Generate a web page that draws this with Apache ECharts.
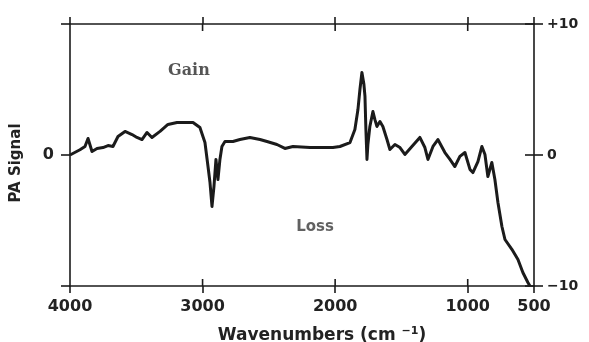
<!DOCTYPE html>
<html>
<head>
<meta charset="utf-8">
<script src="https://cdn.jsdelivr.net/npm/echarts@6/dist/echarts.min.js"></script>
<style>html,body{margin:0;padding:0;background:#fff;}#c{width:589px;height:342px;}</style>
</head>
<body>
<div id="c"></div>
<script>
// Wavenumber (cm^-1) and PA signal
const wavenumbers = [4000,3925,3887,3864,3834,3796,3751,3713,3676,3638,3585,3532,3495,3457,3419,3382,3321,3261,3193,3133,3072,3020,2982,2959,2944,2929,2914,2899,2884,2869,2854,2831,2771,2718,2643,2567,2514,2439,2379,2318,2190,2017,1964,1888,1851,1828,1813,1798,1783,1775,1768,1760,1753,1738,1715,1700,1685,1662,1640,1609,1587,1549,1511,1474,1421,1361,1323,1300,1262,1225,1172,1134,1097,1059,1021,983,961,923,893,870,848,818,795,772,742,719,667,621,584,546,531];
const signal = [0.0,0.4,0.65,1.26,0.27,0.5,0.57,0.72,0.65,1.41,1.8,1.56,1.34,1.18,1.72,1.34,1.8,2.33,2.48,2.48,2.48,2.1,0.95,-0.88,-2.1,-3.93,-2.4,-0.34,-1.87,-0.34,0.65,1.03,1.03,1.18,1.34,1.18,1.03,0.8,0.5,0.65,0.57,0.57,0.65,0.95,1.95,3.47,5.0,6.3,5.4,4.47,1.95,-0.34,0.8,2.18,3.32,2.7,2.18,2.56,2.18,1.18,0.42,0.8,0.57,0.04,0.65,1.34,0.57,-0.34,0.65,1.18,0.19,-0.34,-0.88,-0.11,0.19,-1.1,-1.34,-0.5,0.65,0.04,-1.64,-0.57,-1.87,-3.63,-5.46,-6.45,-7.2,-7.98,-8.97,-9.73,-10.0];
const xTickValues = [4000,3000,2000,1000,500];
const xInnerTickValues = [3000,2000,1000];
const yTickValues = [10,0,-10];
const rightLabels = {'10':'+10','0':'0','-10':'\u221210'};
const leftLabelValues = [0];
const annotations = [
  {name:'Gain', wn:3103, v:6.4, serif:true},
  {name:'Loss', wn:2152, v:-5.5, serif:false}
];

const ink = '#1b1b1b';
const font = 'DejaVu Sans';
const lineData = wavenumbers.map((w,i)=>[w,signal[i]]);
const XT = 7, YT = 9;

function xAx(pos, labels){
  return {
    type:'value', position:pos, min:500, max:4000, inverse:true,
    axisLine:{show:true, onZero:false, lineStyle:{color:ink, width:1.6}},
    axisTick:{show:true, inside:false, length:XT, customValues:xTickValues, lineStyle:{color:ink, width:1.6}},
    axisLabel:{show:labels, customValues:xTickValues, formatter:v=>String(v), fontFamily:font, fontWeight:'bold', fontSize:16, color:'#222', margin:13},
    splitLine:{show:false}
  };
}
function yAx(pos){
  return {
    type:'value', position:pos, min:-10, max:10,
    axisLine:{show:true, onZero:false, lineStyle:{color:ink, width:1.6}},
    axisTick:{show:true, inside:false, length:YT, customValues:yTickValues, lineStyle:{color:ink, width:1.6}},
    axisLabel:{show:false}, splitLine:{show:false}
  };
}
const leftY = yAx('left');
Object.assign(leftY, {
  name:'PA Signal', nameLocation:'middle', nameGap:46, nameRotate:90,
  nameTextStyle:{fontFamily:font, fontWeight:'bold', fontSize:15, color:'#222', padding:[0,16,0,0]},
  axisLabel:{show:true, customValues:leftLabelValues, formatter:v=>String(v), fontFamily:font, fontWeight:'bold', fontSize:16, color:'#222', margin:16, padding:[8,0,0,0]}
});
const rightY = yAx('right');
rightY.axisLabel = {show:true, customValues:yTickValues, formatter:v=>rightLabels[String(v)], fontFamily:font, fontWeight:'bold', fontSize:14, color:'#222', margin:13, padding:[12,0,0,0]};

const bottomX = xAx('bottom', true);
Object.assign(bottomX, {
  name:'{a|Wavenumbers (cm }{s|\u22121}{a|)}', nameLocation:'middle', nameGap:40,
  nameTextStyle:{padding:[0,0,0,40], rich:{
    a:{fontFamily:font, fontWeight:'bold', fontSize:17, color:'#222'},
    s:{fontFamily:font, fontWeight:'bold', fontSize:11, color:'#222', verticalAlign:'top', padding:[0,0,9,0]}
  }}
});

// inner halves of the crossing ticks, placed through the axis scales
const innerTicks = [];
xInnerTickValues.forEach(v=>{ innerTicks.push({kind:'xb', value:[v,-10]}); innerTicks.push({kind:'xt', value:[v,10]}); });
yTickValues.forEach(v=>{ innerTicks.push({kind:'yr', value:[500,v]}); });

const option = {
  backgroundColor:'#fff',
  animation:false,
  grid:{left:70, right:55, top:24, bottom:56, outerBoundsMode:'none', containLabel:false},
  xAxis:[bottomX, xAx('top', false)],
  yAxis:[leftY, rightY],
  series:[
    {type:'line', xAxisIndex:0, yAxisIndex:0, data:lineData, showSymbol:false, symbol:'none',
     lineStyle:{color:ink, width:3, join:'round'}},
    {type:'custom', xAxisIndex:0, yAxisIndex:0, clip:false, silent:true,
     data:innerTicks.map(t=>t.value),
     renderItem:function(params, api){
       const p = api.coord([api.value(0), api.value(1)]);
       const k = innerTicks[params.dataIndex].kind;
       let p2;
       if (k==='xb') p2=[p[0], p[1]-XT];
       else if (k==='xt') p2=[p[0], p[1]+XT];
       else p2=[p[0]-YT, p[1]];
       return {type:'line', shape:{x1:p[0], y1:p[1], x2:p2[0], y2:p2[1]}, style:{stroke:ink, lineWidth:1.6}};
     }},
    {type:'scatter', xAxisIndex:0, yAxisIndex:0, symbolSize:0,
     data:annotations.map(a=>({name:a.name, value:[a.wn, a.v],
       label:{fontFamily:a.serif?'DejaVu Serif':font, fontSize:a.serif?16:15, color:a.serif?'#2a2a2a':'#3a3a3a'}})),
     label:{show:true, position:'inside', formatter:p=>p.name, fontWeight:'bold'}}
  ]
};
echarts.init(document.getElementById('c')).setOption(option);
</script>
</body>
</html>
